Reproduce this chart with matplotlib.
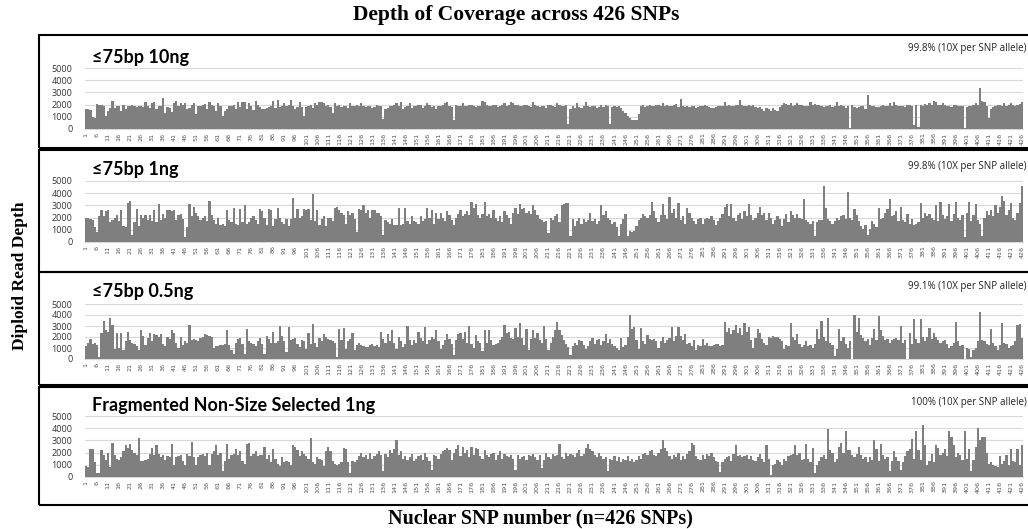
import matplotlib
matplotlib.use("Agg")
import matplotlib.pyplot as plt
from matplotlib.patches import Rectangle
import numpy as np

W, H = 1028, 529

# SNP positions 1..426 and tick labels every 5th SNP
n_snps = 426
tick_snps = list(range(1, n_snps + 1, 5))

panel_titles = ["≤75bp 10ng", "≤75bp 1ng", "≤75bp 0.5ng", "Fragmented Non-Size Selected 1ng"]
panel_notes = ["99.8% (10X per SNP allele)", "99.8% (10X per SNP allele)",
               "99.1% (10X per SNP allele)", "100% (10X per SNP allele)"]

depth_10ng = [
    1650, 1600, 1550, 1000, 900, 2050, 2000, 1950, 1900, 1100,
    1500, 1700, 2300, 1750, 1850, 1900, 1500, 2000, 1600, 1900,
    1850, 1950, 1850, 1800, 1850, 1900, 1800, 2200, 1850, 1700,
    2100, 2200, 1600, 1900, 1850, 2550, 1300, 1800, 1700, 1400,
    2100, 2300, 1900, 2100, 2000, 2150, 1600, 1700, 1950, 2100,
    1200, 1850, 1900, 2000, 2050, 1650, 2200, 2000, 1900, 1500,
    2100, 1850, 1050, 1500, 1600, 1900, 1900, 2000, 1600, 2200,
    1800, 2200, 2250, 1600, 2100, 1900, 1550, 2300, 2000, 1800,
    1600, 1650, 1700, 1800, 1850, 2300, 1750, 2400, 1800, 1900,
    2100, 1900, 2000, 2350, 1900, 1600, 1800, 2200, 1800, 1100,
    1800, 1900, 2000, 1700, 2100, 2000, 2200, 2250, 2100, 1900,
    2000, 1800, 1300, 2100, 1900, 1950, 1800, 1850, 1900, 1700,
    2100, 1850, 1900, 2000, 1850, 2150, 1900, 1800, 1850, 1900,
    1750, 1800, 2000, 1850, 1900, 800, 1600, 1700, 1850, 1900,
    2000, 2100, 1900, 2200, 1600, 1800, 1900, 2100, 1700, 1900,
    1850, 1950, 2000, 1700, 1900, 2100, 2000, 1800, 1850, 1650,
    1900, 1850, 2000, 2100, 2200, 1900, 1800, 700, 2000, 1900,
    1900, 2100, 1850, 1900, 2000, 1950, 1900, 1800, 1850, 1900,
    2300, 2200, 2000, 1900, 1850, 2000, 1950, 1800, 1900, 2000,
    2100, 1900, 2000, 2200, 2100, 1950, 2000, 1900, 1850, 1950,
    2000, 1900, 1800, 2200, 2000, 1900, 1800, 1900, 1850, 1700,
    1950, 2000, 1900, 1800, 2100, 2000, 1900, 1850, 2000, 400,
    1600, 1900, 1700, 2100, 1800, 1750, 1900, 2200, 1900, 1800,
    1850, 1900, 1750, 1800, 1950, 1800, 2000, 1900, 400, 1800,
    1900, 1800, 1900, 1700, 1500, 1300, 1100, 900, 750, 700,
    700, 1200, 1900, 1950, 1800, 1900, 2000, 1900, 1850, 2000,
    2000, 1900, 2100, 1900, 2000, 1850, 1900, 1950, 2050, 1800,
    2500, 1900, 1800, 1850, 1800, 1900, 1850, 1700, 1800, 1900,
    1850, 1950, 1900, 1800, 1750, 1700, 1800, 1900, 1850, 1900,
    2200, 1900, 2000, 1850, 1900, 1950, 2000, 2400, 1950, 1900,
    1850, 2000, 1900, 2000, 1800, 1700, 1800, 1600, 1500, 1700,
    1600, 1500, 1700, 1550, 1500, 1800, 2000, 2100, 2050, 2000,
    2100, 1900, 2000, 2100, 1950, 2000, 1900, 1850, 1900, 2200,
    2000, 2050, 2000, 1950, 1900, 1800, 1850, 1900, 1950, 1800,
    1900, 2200, 1900, 2000, 1850, 1700, 1900, 100, 1950, 1800,
    1700, 1800, 1850, 1900, 1600, 2800, 2000, 1850, 1900, 1800,
    1800, 1900, 2000, 1850, 1900, 2100, 1900, 2200, 2000, 1900,
    1850, 1900, 1800, 1950, 2000, 1900, 300, 1950, 200, 2000,
    1900, 2050, 2000, 2100, 2000, 2300, 2250, 2000, 1950, 2100,
    2000, 1900, 1850, 1800, 1950, 2000, 1900, 1850, 1900, 100,
    1800, 1900, 1850, 2000, 2100, 1950, 3400, 2300, 2200, 1900,
    900, 1600, 1800, 1900, 1950, 2000, 1850, 2100, 1900, 2000,
    2100, 1950, 1900, 2000, 2050, 2200,
]

depth_1ng = [
    1950, 1950, 1900, 1800, 1200, 800, 2100, 2600, 2100, 2500,
    2600, 1600, 1800, 2000, 2200, 1700, 2600, 1300, 1200, 3200,
    3400, 550, 1600, 2700, 1300, 2200, 2000, 2200, 1800, 2200,
    1700, 2600, 1600, 3100, 1800, 2300, 2000, 2600, 2600, 2500,
    2600, 1800, 2200, 2300, 1900, 450, 1200, 3100, 2100, 2900,
    2400, 2100, 1800, 2000, 2100, 1700, 3400, 2200, 1800, 1500,
    2000, 1400, 1500, 1300, 2600, 1800, 1600, 2800, 1500, 1400,
    2700, 1600, 3000, 1500, 1600, 2000, 2100, 1800, 1500, 2700,
    2500, 2000, 1400, 2700, 2600, 1300, 1900, 2800, 2000, 1600,
    1500, 1900, 1300, 1900, 3600, 2000, 2700, 2000, 2100, 2700,
    2600, 2700, 1800, 3900, 1700, 2600, 1400, 1900, 2100, 1300,
    2000, 2000, 1700, 2800, 2900, 2600, 2400, 2200, 1500, 2500,
    2200, 2400, 1900, 800, 2700, 2600, 3000, 2400, 2600, 2000,
    2600, 2600, 2400, 2400, 2100, 600, 1800, 1600, 1500, 1900,
    1400, 1400, 2800, 1400, 1500, 2800, 1700, 1500, 2100, 1700,
    1600, 1500, 2100, 1700, 1900, 2800, 2000, 2600, 1500, 2400,
    1900, 2400, 2000, 1700, 2500, 2200, 1800, 1400, 2000, 2300,
    2600, 2100, 2300, 2500, 2200, 3300, 2800, 3100, 2200, 2000,
    2300, 3300, 2100, 2300, 2000, 2600, 2000, 1700, 2100, 1600,
    2500, 2200, 2000, 1500, 2400, 2800, 2300, 3100, 2700, 2800,
    2400, 2500, 2300, 3000, 2600, 2200, 1900, 1800, 1600, 1700,
    700, 2000, 1800, 2100, 2300, 1600, 3000, 3100, 3200, 3200,
    500, 1900, 1300, 1700, 2000, 1500, 1900, 1600, 1800, 2400,
    1700, 1900, 1500, 1700, 3000, 2200, 2500, 2000, 1800, 1500,
    1600, 1200, 500, 1500, 1900, 2300, 500, 900, 800, 900,
    1300, 1800, 2000, 2300, 2100, 2000, 2200, 3300, 2500, 2000,
    1600, 2200, 3100, 2200, 1900, 3700, 2400, 2700, 2000, 3200,
    1800, 2100, 1500, 2800, 2400, 2000, 1700, 1500, 1900, 2000,
    1500, 1900, 2000, 1900, 2100, 1800, 1400, 1700, 2000, 2300,
    2900, 3100, 2100, 3100, 2000, 1700, 2200, 2400, 1900, 2500,
    2100, 3100, 2200, 1800, 2000, 2400, 2900, 2200, 2400, 1800,
    2400, 2000, 1500, 1800, 2100, 1900, 1300, 1900, 2300, 1600,
    2500, 2200, 2000, 2300, 2000, 1900, 3500, 1800, 1600, 1500,
    1700, 500, 1600, 1800, 1800, 4600, 2800, 1900, 1700, 1500,
    1700, 2000, 1800, 2100, 2200, 1900, 4100, 2000, 1800, 2700,
    2200, 1700, 1300, 1100, 1400, 600, 1100, 1700, 1500, 1200,
    2800, 1900, 2000, 2400, 2700, 3500, 2100, 2200, 2500, 1700,
    2900, 1800, 1600, 2300, 1500, 1900, 1400, 1500, 1600, 3200,
    2000, 2400, 2100, 2300, 2000, 1800, 3000, 1700, 3300, 2200,
    1900, 2100, 3100, 1700, 2300, 3300, 2000, 1800, 2200, 400,
    2400, 3300, 1700, 2200, 3100, 1800, 1500, 500, 2000, 2500,
    2200, 2600, 2100, 3000, 2400, 2900, 3800, 3400, 2200, 2600,
    3200, 2000, 1800, 2400, 3200, 4600,
]

depth_05ng = [
    1200, 1500, 1800, 1400, 1500, 1300, 200, 2400, 3500, 2600,
    2500, 3700, 3100, 900, 2400, 1000, 2400, 800, 1600, 2500,
    1700, 1500, 1400, 1200, 800, 2600, 2100, 1300, 1900, 2400,
    1600, 2300, 2200, 2000, 2300, 1400, 1200, 2000, 1800, 2600,
    2400, 1500, 1000, 2000, 1300, 1600, 1500, 3100, 1700, 1800,
    1700, 1600, 1900, 2000, 2300, 2200, 2100, 2000, 1000, 1200,
    1200, 1300, 1300, 1400, 2600, 1300, 800, 500, 1500, 1800,
    1900, 1400, 500, 2700, 1600, 1500, 1400, 1200, 1600, 1900,
    1400, 500, 2100, 1800, 1500, 2500, 1500, 1600, 3000, 2100,
    1600, 600, 2900, 1700, 1800, 1900, 1400, 1100, 1700, 1600,
    900, 2400, 1400, 3200, 1500, 1100, 1900, 1600, 2300, 2000,
    1800, 1700, 1600, 1500, 200, 2700, 1700, 2800, 900, 1600,
    1800, 2400, 800, 1300, 1500, 1300, 1200, 1100, 1100, 1300,
    1400, 1200, 1300, 1100, 2500, 1800, 1500, 2300, 1600, 2600,
    1500, 900, 2000, 1600, 1100, 1400, 3000, 1700, 1300, 1700,
    1500, 2500, 1900, 1600, 2900, 1400, 1700, 2000, 1800, 2600,
    1600, 900, 1300, 1700, 2300, 1800, 1400, 400, 1700, 2300,
    2400, 1800, 2500, 1500, 3000, 1400, 1000, 2200, 1600, 1500,
    700, 2600, 1500, 2600, 1700, 1300, 1400, 1500, 1700, 2000,
    3100, 2400, 2500, 1900, 1800, 2800, 2000, 3300, 1900, 1300,
    2700, 800, 1800, 2600, 1900, 2400, 1700, 1500, 3000, 1800,
    800, 1500, 2000, 2600, 3400, 2600, 2200, 1700, 1400, 1100,
    400, 1200, 1500, 1300, 1700, 1600, 1300, 900, 1200, 1600,
    1900, 1400, 1700, 1800, 1300, 1600, 2300, 1500, 1800, 1400,
    1200, 1000, 800, 1900, 1100, 1300, 2000, 4000, 2700, 2900,
    1700, 900, 2800, 1600, 1400, 2200, 1800, 1700, 1800, 1600,
    1000, 1600, 2000, 1500, 1700, 1900, 2900, 1600, 2100, 2900,
    2100, 1700, 2300, 1400, 1500, 1200, 1700, 800, 1300, 1200,
    1800, 1300, 1500, 1200, 1200, 1300, 1400, 1400, 1200, 1300,
    3400, 2500, 2800, 2300, 2600, 3100, 2400, 2800, 2200, 3300,
    2500, 2900, 1700, 1000, 1900, 2700, 2400, 1800, 1500, 1300,
    2000, 1900, 2100, 2000, 2000, 1800, 1600, 900, 1300, 1200,
    3300, 2000, 1700, 2300, 1400, 1100, 1300, 1600, 1200, 1300,
    1000, 1400, 2700, 1800, 3500, 2000, 1600, 3700, 1500, 1300,
    300, 900, 2700, 1600, 2000, 1400, 1000, 1600, 0, 4000,
    2500, 3700, 2200, 1900, 1600, 1800, 1300, 1900, 2700, 1700,
    3900, 2600, 2100, 1700, 1800, 1500, 1700, 1800, 1900, 1700,
    3000, 1500, 1700, 0, 2400, 1400, 3600, 1800, 1500, 3600,
    2000, 1600, 2000, 2800, 1800, 2400, 2000, 1700, 1500, 1600,
    1700, 1400, 1000, 1200, 1500, 3400, 1600, 1200, 1300, 0,
    1000, 900, 200, 800, 1000, 1600, 4300, 1700, 1600, 1400,
    1300, 2700, 1500, 1200, 800, 1300, 3300, 1500, 1400, 1000,
    1200, 1300, 1600, 3100, 3200, 1900,
]

depth_frag = [
    900, 800, 2300, 2300, 1200, 300, 300, 2200, 1800, 1400,
    2000, 800, 2800, 1800, 1500, 1400, 1600, 2100, 2600, 2400,
    2700, 2200, 2000, 1800, 3200, 1300, 1300, 1400, 1500, 1900,
    2400, 1800, 2600, 1900, 1600, 1800, 1400, 1700, 1600, 2700,
    1000, 1600, 1700, 1800, 1300, 1000, 1900, 1700, 2900, 1600,
    1000, 1600, 1800, 1900, 1700, 2000, 1000, 1900, 2100, 2600,
    1800, 2000, 500, 1300, 2700, 1500, 1800, 1900, 2300, 1800,
    2100, 1300, 1100, 2700, 2800, 1700, 1900, 2100, 1700, 1800,
    1800, 2500, 1500, 1800, 1200, 2300, 1500, 1100, 900, 1600,
    1200, 1300, 1200, 1000, 2600, 2500, 2200, 1700, 2100, 1900,
    1700, 1500, 3200, 1200, 1100, 1600, 1500, 1400, 900, 2100,
    2500, 2100, 1300, 1100, 1000, 1100, 1200, 2400, 2300, 1200,
    300, 1300, 1200, 1400, 1700, 2000, 1600, 1800, 1500, 2000,
    1500, 1700, 1900, 2100, 1800, 500, 1900, 1600, 2200, 2000,
    2300, 3000, 1800, 2100, 1500, 1700, 1400, 1600, 1900, 1300,
    1500, 1700, 1800, 1400, 2000, 1600, 1300, 600, 1800, 1700,
    1500, 1900, 2100, 2200, 2400, 2200, 1400, 2000, 2300, 2600,
    1700, 2500, 2000, 2200, 1600, 2500, 1800, 2400, 2300, 1700,
    1500, 2200, 1800, 1600, 1900, 2000, 1400, 1800, 2100, 1500,
    1900, 1700, 1600, 1800, 1500, 600, 1800, 1500, 1600, 1700,
    1400, 1800, 1700, 1900, 1600, 1400, 1800, 700, 1400, 2000,
    1600, 1500, 1900, 1700, 1800, 2700, 1600, 1500, 2000, 1700,
    1900, 1800, 1600, 2000, 2200, 1700, 1900, 2400, 2700, 2300,
    2100, 1800, 1600, 2000, 1700, 1500, 1600, 500, 1500, 1400,
    1700, 1300, 1600, 1200, 1500, 1400, 1700, 1300, 1500, 1200,
    1400, 1700, 1500, 1900, 2000, 1800, 2100, 2200, 1800, 1700,
    2000, 2300, 3000, 2400, 2100, 1700, 1500, 1800, 1600, 2000,
    1400, 1700, 1500, 1900, 2100, 2800, 2600, 1700, 1500, 1400,
    1800, 1500, 1900, 1700, 2000, 1600, 1300, 1200, 400, 1200,
    1500, 1600, 1700, 1300, 1900, 2600, 1700, 1800, 1600, 1700,
    1800, 1500, 1700, 1400, 1300, 1600, 1900, 1500, 1200, 2600,
    1500, 200, 1000, 1100, 1400, 1200, 1000, 1500, 1300, 1700,
    1800, 1900, 2600, 1800, 2000, 1400, 1500, 2700, 1500, 1200,
    2400, 300, 1000, 1300, 1600, 1800, 1500, 3900, 2200, 2000,
    1200, 1500, 2500, 2800, 2000, 3800, 2200, 2200, 1800, 1600,
    1900, 2500, 1800, 1500, 1600, 1200, 1600, 1400, 3000, 2300,
    1300, 2700, 1800, 1500, 1600, 500, 1300, 2100, 1600, 1300,
    600, 1200, 1700, 2100, 2300, 3100, 1500, 3800, 2200, 1400,
    4300, 2600, 1000, 1300, 1900, 1200, 2600, 2400, 1800, 2000,
    2300, 1700, 3800, 3300, 2600, 1600, 2000, 1800, 1400, 3800,
    1500, 2300, 500, 1400, 2500, 4000, 3000, 3300, 3300, 2000,
    1100, 1200, 1000, 900, 800, 1700, 1100, 1300, 1800, 1000,
    2300, 1300, 1200, 2300, 1000, 2600,
]

series = [depth_10ng, depth_1ng, depth_05ng, depth_frag]
for s in series:
    assert len(s) == n_snps, len(s)

# pixel layout of each panel: (box top, box bottom, plot top(5000), plot bottom(0), title y, note y)
panels = [
    (35, 148, 68, 129, 57, 48),
    (150, 272, 181, 242, 170, 167),
    (272, 385, 304, 359, 291, 287),
    (387, 505, 416, 477, 405, 403),
]
plot_x0, plot_x1 = 85, 1023
box_x0, box_x1 = 39, 1032

fig = plt.figure(figsize=(W / 100, H / 100), dpi=100)
fig.patch.set_facecolor("white")

bar_color = "#7f7f7f"
grid_color = "#d9d9d9"
x = np.arange(1, n_snps + 1)

for i, (bt, bb, pt, pb, ty, ny) in enumerate(panels):
    # panel frame
    fig.add_artist(Rectangle((box_x0 / W, 1 - bb / H), (box_x1 - box_x0) / W, (bb - bt) / H,
                             transform=fig.transFigure, fill=False, edgecolor="black", lw=1.5))

    ax = fig.add_axes([plot_x0 / W, 1 - pb / H, (plot_x1 - plot_x0) / W, (pb - pt) / H])
    ax.bar(x, series[i], width=1.0, color=bar_color, linewidth=0, zorder=3)
    ax.set_xlim(0.5, n_snps + 0.5)
    ax.set_ylim(0, 5000)
    ax.set_yticks([0, 1000, 2000, 3000, 4000, 5000])
    ax.set_yticklabels(["0", "1000", "2000", "3000", "4000", "5000"], fontsize=6.5,
                       family="Open Sans", color="#333333")
    ax.yaxis.grid(True, color=grid_color, lw=0.8, zorder=0)
    ax.set_xticks(tick_snps)
    ax.set_xticklabels([str(t) for t in tick_snps], rotation=90, fontsize=4.6,
                       color="#555555", family="DejaVu Sans")
    ax.tick_params(axis="both", length=0, pad=2.5)
    ax.tick_params(axis="y", pad=9)
    for side in ["top", "right", "left"]:
        ax.spines[side].set_visible(False)
    ax.spines["bottom"].set_color(grid_color)
    ax.spines["bottom"].set_linewidth(0.8)
    ax.patch.set_alpha(0)

    fig.text(92 / W, 1 - ty / H, panel_titles[i], fontsize=13, fontweight="bold",
             family="Lato", ha="left", va="center", color="black")
    fig.text(1027 / W, 1 - ny / H, panel_notes[i], fontsize=7, family="Open Sans",
             ha="right", va="center", color="#222222")

serif = "Liberation Serif"
fig.text(516 / W, 1 - 15 / H, "Depth of Coverage across 426 SNPs", fontsize=15.5,
         fontweight="bold", family=serif, ha="center", va="center")
fig.text(20 / W, 1 - 276 / H, "Diploid Read Depth", fontsize=12.5, fontweight="bold",
         family=serif, ha="center", va="center", rotation=90)
fig.text(540 / W, 1 - 518 / H, "Nuclear SNP number (n=426 SNPs)", fontsize=14.5,
         fontweight="bold", family=serif, ha="center", va="center")

fig.savefig("out.png", dpi=100)
